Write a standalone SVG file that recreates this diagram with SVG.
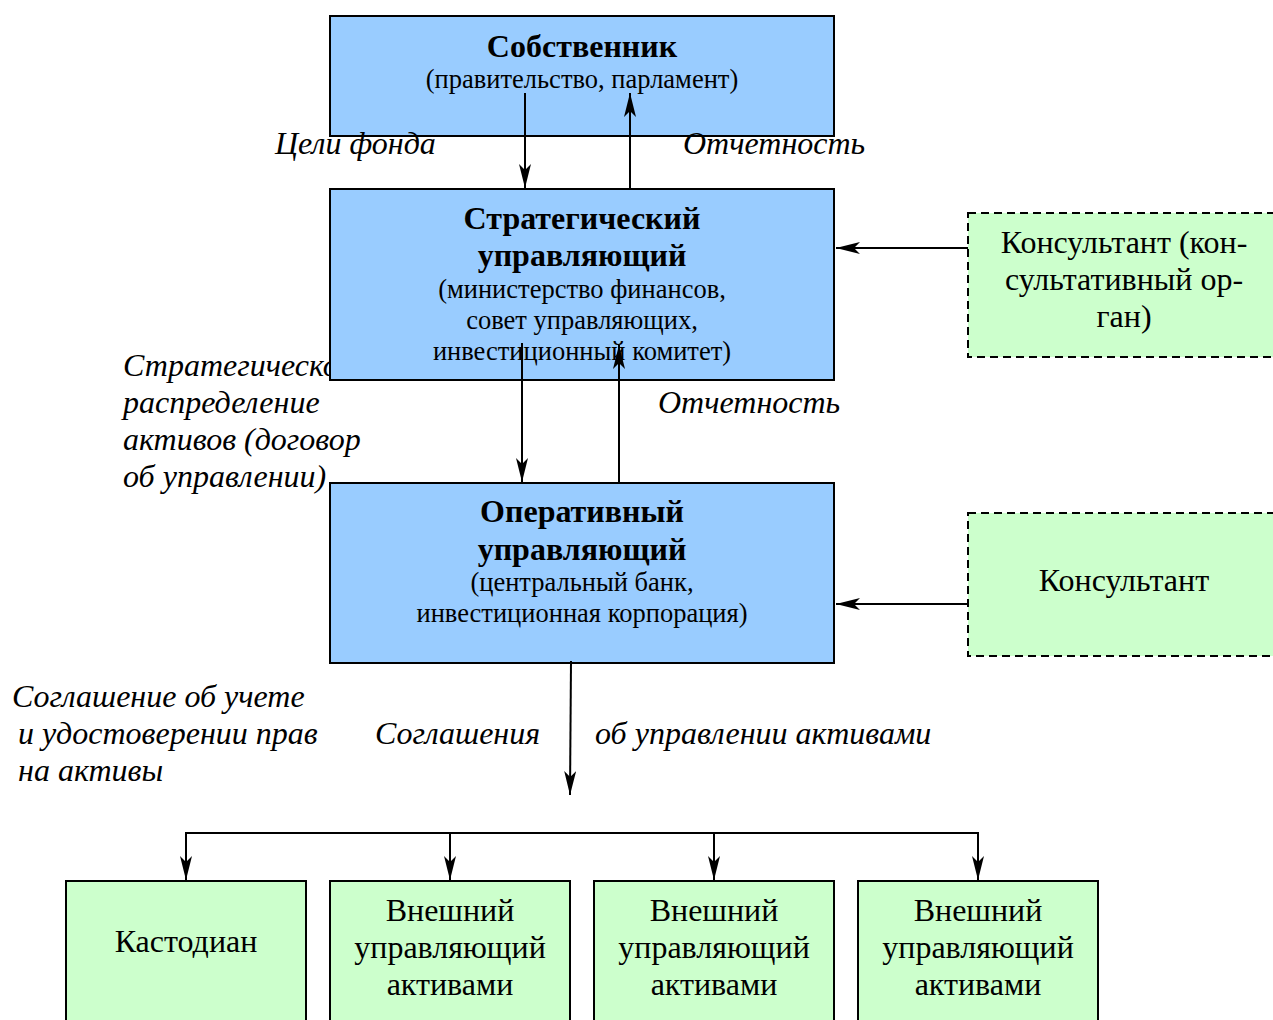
<svg xmlns="http://www.w3.org/2000/svg" width="1273" height="1020" viewBox="0 0 1273 1020">
<style>
.blue{fill:#99ccff;stroke:#000;stroke-width:2}
.green{fill:#ccffcc;stroke:#000;stroke-width:2}
.dash{fill:#ccffcc;stroke:#000;stroke-width:2;stroke-dasharray:8,5}
text{font-family:"Liberation Serif","Times New Roman",serif;fill:#000}
.t{font-size:32px;font-weight:bold;text-anchor:middle}
.s{font-size:26.5px;text-anchor:middle}
.n{font-size:32px;text-anchor:middle}
.i{font-size:32px;font-style:italic}
.ln{fill:none;stroke:#000;stroke-width:2}
</style>
<defs>
<marker id="ar" viewBox="0 0 24 12" refX="24" refY="6" markerWidth="24" markerHeight="12" markerUnits="userSpaceOnUse" orient="auto">
<path d="M0,0 L24,6 L0,12 L6,6 Z" fill="#000"/>
</marker>
</defs>
<g id="labels-behind">
<text class="i" x="123" y="376">Стратегическое</text>
</g>
<g id="owner">
<rect class="blue" x="330" y="16" width="504" height="120"/>
<text class="t" x="582" y="57">Собственник</text>
<text class="s" x="582" y="88">(правительство, парламент)</text>
</g>
<g id="strategic">
<rect class="blue" x="330" y="189" width="504" height="191"/>
<text class="t" x="582" y="229">Стратегический</text>
<text class="t" x="582" y="266">управляющий</text>
<text class="s" x="582" y="298">(министерство финансов,</text>
<text class="s" x="582" y="329">совет управляющих,</text>
<text class="s" x="582" y="360">инвестиционный комитет)</text>
</g>
<g id="operative">
<rect class="blue" x="330" y="483" width="504" height="180"/>
<text class="t" x="582" y="522">Оперативный</text>
<text class="t" x="582" y="560">управляющий</text>
<text class="s" x="582" y="591">(центральный банк,</text>
<text class="s" x="582" y="622">инвестиционная корпорация)</text>
</g>
<g id="consultant1">
<rect class="dash" x="968" y="213" width="320" height="144"/>
<text class="n" x="1124" y="253">Консультант (кон-</text>
<text class="n" x="1124" y="290">сультативный ор-</text>
<text class="n" x="1124" y="327">ган)</text>
</g>
<g id="consultant2">
<rect class="dash" x="968" y="513" width="320" height="143"/>
<text class="n" x="1124" y="591">Консультант</text>
</g>
<g id="custodian">
<rect class="green" x="66" y="881" width="240" height="150"/>
<text class="n" x="186" y="952">Кастодиан</text>
</g>
<g id="ext1">
<rect class="green" x="330" y="881" width="240" height="150"/>
<text class="n" x="450" y="921">Внешний</text>
<text class="n" x="450" y="958">управляющий</text>
<text class="n" x="450" y="995">активами</text>
</g>
<g id="ext2">
<rect class="green" x="594" y="881" width="240" height="150"/>
<text class="n" x="714" y="921">Внешний</text>
<text class="n" x="714" y="958">управляющий</text>
<text class="n" x="714" y="995">активами</text>
</g>
<g id="ext3">
<rect class="green" x="858" y="881" width="240" height="150"/>
<text class="n" x="978" y="921">Внешний</text>
<text class="n" x="978" y="958">управляющий</text>
<text class="n" x="978" y="995">активами</text>
</g>
<g id="connectors">
<line class="ln" x1="525" y1="93" x2="525" y2="188" marker-end="url(#ar)"/>
<line class="ln" x1="630" y1="188" x2="630" y2="93" marker-end="url(#ar)"/>
<line class="ln" x1="522" y1="343" x2="522" y2="482" marker-end="url(#ar)"/>
<line class="ln" x1="619" y1="483" x2="619" y2="345" marker-end="url(#ar)"/>
<line class="ln" x1="968" y1="248" x2="836" y2="248" marker-end="url(#ar)"/>
<line class="ln" x1="968" y1="604" x2="836" y2="604" marker-end="url(#ar)"/>
<line class="ln" x1="571" y1="661" x2="570" y2="795" marker-end="url(#ar)"/>
<polyline class="ln" points="185,833 979,833"/>
<line class="ln" x1="186" y1="832" x2="186" y2="880" marker-end="url(#ar)"/>
<line class="ln" x1="450" y1="833" x2="450" y2="880" marker-end="url(#ar)"/>
<line class="ln" x1="714" y1="833" x2="714" y2="880" marker-end="url(#ar)"/>
<line class="ln" x1="978" y1="832" x2="978" y2="880" marker-end="url(#ar)"/>
</g>
<g id="labels">
<text class="i" x="275" y="154">Цели фонда</text>
<text class="i" x="683" y="154">Отчетность</text>
<text class="i" x="123" y="413">распределение</text>
<text class="i" x="123" y="450">активов (договор</text>
<text class="i" x="123" y="487">об управлении)</text>
<text class="i" x="658" y="413">Отчетность</text>
<text class="i" x="12" y="707">Соглашение об учете</text>
<text class="i" x="18" y="744">и удостоверении прав</text>
<text class="i" x="18" y="781">на активы</text>
<text class="i" x="375" y="744">Соглашения</text>
<text class="i" x="595" y="744">об управлении активами</text>
</g>
</svg>
